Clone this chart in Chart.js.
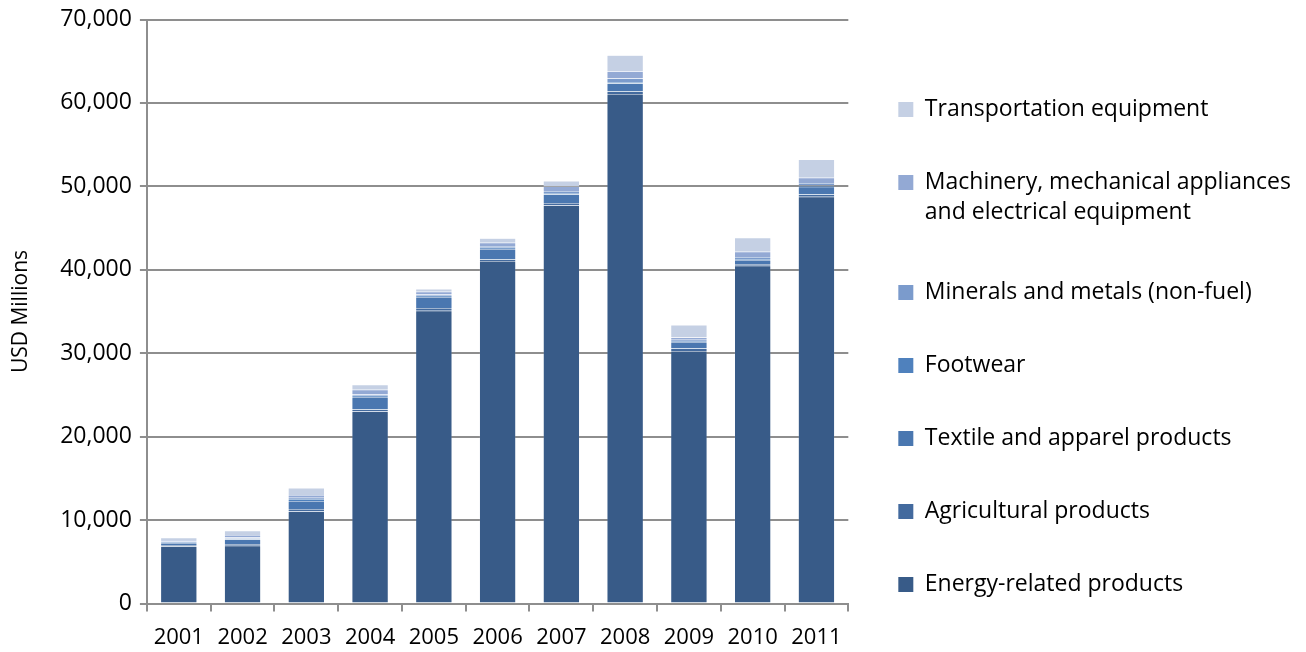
<!DOCTYPE html>
<html>
<head>
<meta charset="utf-8">
<script src="https://cdn.jsdelivr.net/npm/chart.js@4.4.1/dist/chart.umd.min.js"></script>
<style>
  html, body { margin: 0; padding: 0; background: #fff; }
  #wrap { width: 1306px; height: 652px; }
</style>
</head>
<body>
<div id="wrap"><canvas id="chart" width="1306" height="652"></canvas></div>
<script>
const years = ["2001", "2002", "2003", "2004", "2005", "2006", "2007", "2008", "2009", "2010", "2011"];

// USD millions
const energy = [6860, 6940, 11050, 23020, 35100, 41060, 47720, 61080, 30280, 40500, 48760];
const agricultural = [150, 200, 300, 280, 320, 200, 280, 320, 280, 200, 280];
const textile = [250, 580, 940, 1450, 1330, 1250, 1050, 970, 800, 480, 930];
const footwear = [100, 100, 250, 150, 150, 150, 150, 150, 120, 120, 150];
const minerals = [100, 100, 150, 200, 180, 200, 250, 400, 150, 250, 300];
const machinery = [150, 300, 330, 520, 300, 400, 550, 880, 250, 630, 620];
const transport = [290, 520, 830, 600, 320, 520, 640, 1915, 1520, 1675, 2190];

const yTicks = [0, 10000, 20000, 30000, 40000, 50000, 60000, 70000];

const font = "'Open Sans', 'DejaVu Sans', sans-serif";

const series = [
  {label: "Energy-related products", data: energy, color: "#385b88"},
  {label: "Agricultural products", data: agricultural, color: "#436a9e"},
  {label: "Textile and apparel products", data: textile, color: "#4a77b0"},
  {label: "Footwear", data: footwear, color: "#4f81bd"},
  {label: "Minerals and metals (non-fuel)", data: minerals, color: "#7b9bcc"},
  {label: ["Machinery, mechanical appliances", "and electrical equipment"], data: machinery, color: "#93a9d4"},
  {label: "Transportation equipment", data: transport, color: "#c5d0e4"},
];

new Chart(document.getElementById("chart"), {
  type: "bar",
  data: {
    labels: years,
    datasets: series.map(s => ({
      label: s.label,
      data: s.data,
      backgroundColor: s.color,
      borderColor: "rgba(255,255,255,0.25)",
      borderWidth: 0.5,
      categoryPercentage: 1,
      barPercentage: 0.57,
    })),
  },
  options: {
    responsive: false,
    animation: false,
    layout: {padding: {left: 0, top: 4, right: 5, bottom: -12}},
    plugins: {
      tooltip: {enabled: false},
      legend: {
        position: "right",
        align: "center",
        reverse: true,
        maxWidth: 600,
        // blank title only nudges the column of entries down
        title: {display: true, text: " ", font: {size: 10}, padding: {top: 0, bottom: 14}},
        labels: {
          font: {family: font, size: 23, lineHeight: 1.3},
          color: "#000",
          boxWidth: 15,
          boxHeight: 15,
          padding: 50,
          generateLabels: chart => chart.data.datasets.map((ds, i) => ({
            text: ds.label,
            fillStyle: ds.backgroundColor,
            strokeStyle: ds.backgroundColor,
            lineWidth: 0,
            datasetIndex: i,
            fontColor: "#000",
          })),
        },
      },
    },
    scales: {
      x: {
        stacked: true,
        grid: {drawOnChartArea: false, color: "#8e8e8e", lineWidth: 2, tickLength: 8},
        border: {color: "#8e8e8e", width: 2},
        ticks: {font: {family: font, size: 22}, color: "#000", maxRotation: 0, padding: 13},
      },
      y: {
        stacked: true,
        min: 0,
        max: 70000,
        afterBuildTicks: axis => { axis.ticks = yTicks.map(v => ({value: v})); },
        grid: {color: "#8e8e8e", lineWidth: 2, tickLength: 7},
        border: {color: "#8e8e8e", width: 2},
        ticks: {
          font: {family: font, size: 23, lineHeight: 1},
          color: "#000",
          padding: 8,
          callback: v => v.toLocaleString("en-US"),
        },
        title: {
          display: true,
          text: "USD Millions",
          font: {family: font, size: 21},
          color: "#000",
          padding: {top: 8, bottom: 19},
        },
      },
    },
  },
});
</script>
</body>
</html>
